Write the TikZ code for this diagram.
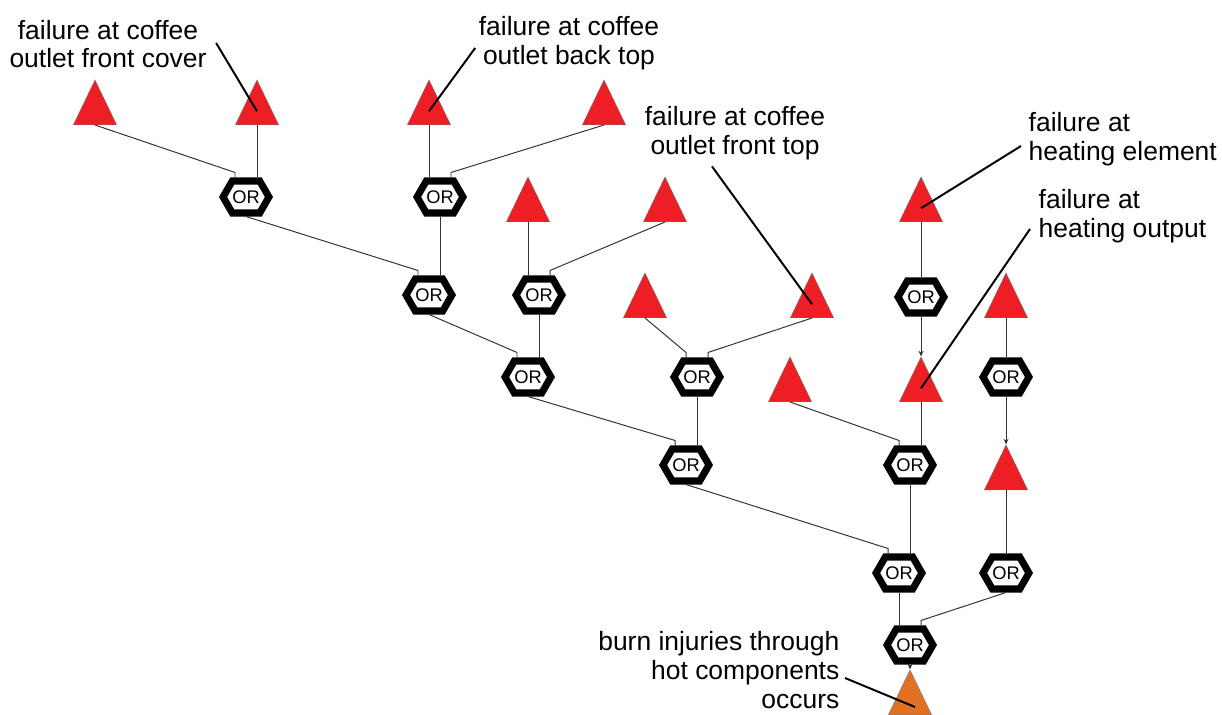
\documentclass[tikz,border=0pt]{standalone}
\usepackage{fontspec}
\setmainfont{Liberation Sans}
\usetikzlibrary{arrows.meta,calc,shapes.geometric,shapes.symbols}
\definecolor{evred}{RGB}{237,30,36}
\definecolor{evorange}{RGB}{226,112,35}

\begin{document}
\begin{tikzpicture}[x=0.025cm,y=-0.025cm]
\tikzset{
  event/.style={isosceles triangle,shape border rotate=90,isosceles triangle stretches,
    minimum width=1.08cm,minimum height=1.12cm,inner sep=0pt,draw=black!55,line width=0.3pt,fill=evred},
  gate/.style={signal,signal to=west and east,signal pointer angle=120,minimum width=1.05cm,
    minimum height=0.8cm,inner sep=0pt,draw,line width=5pt,fill=white,font=\fontsize{13}{13}\selectfont},
  wire/.style={line width=0.7pt,draw=black!80},
  feed/.style={wire,-{Stealth[length=4pt,width=3.5pt]}},
  leader/.style={line width=1.4pt},
  eventtext/.style={font=\fontsize{18.8}{20.5}\selectfont,inner sep=1pt}
}
\useasboundingbox (0,0) rectangle (1222,715);
% basic events
\node[event,anchor=south] (ev_1) at (95,125) {};
\node[event,anchor=south] (ev_2) at (257,125) {};
\node[event,anchor=south] (ev_3) at (429,125) {};
\node[event,anchor=south] (ev_4) at (604,125) {};
\node[event,anchor=south] (ev_5) at (528,222) {};
\node[event,anchor=south] (ev_6) at (665,222) {};
\node[event,anchor=south] (ev_7) at (921,222) {};
\node[event,anchor=south] (ev_8) at (645,318) {};
\node[event,anchor=south] (ev_9) at (812,318) {};
\node[event,anchor=south] (ev_10) at (1006,318) {};
\node[event,anchor=south] (ev_11) at (790,402) {};
\node[event,anchor=south] (ev_12) at (921,402) {};
\node[event,anchor=south] (ev_13) at (1006,490) {};
\node[event,anchor=south,fill=evorange] (top) at (910,715) {};
% OR gates
\node[gate] (or_1) at (246,197) {OR};
\node[gate] (or_2) at (440,197) {OR};
\node[gate] (or_3) at (429,295) {OR};
\node[gate] (or_4) at (539,295) {OR};
\node[gate] (or_5) at (528,377) {OR};
\node[gate] (or_6) at (697,377) {OR};
\node[gate] (or_7) at (686,465) {OR};
\node[gate] (or_8) at (910,465) {OR};
\node[gate] (or_9) at (899,573) {OR};
\node[gate] (or_10) at (1006,573) {OR};
\node[gate] (or_11) at (910,645) {OR};
\node[gate] (or_12) at (921,297) {OR};
\node[gate] (or_13) at (1006,377) {OR};
% wires
\draw[wire] (ev_1.south) -- ($(or_1.north)+(-11,-5)$) -- ($(or_1.north)+(-11,0)$);
\draw[wire] (ev_2.south) -- (ev_2.south |- or_1.north);
\draw[wire] (ev_3.south) -- (ev_3.south |- or_2.north);
\draw[wire] (ev_4.south) -- ($(or_2.north)+(11,-5)$) -- ($(or_2.north)+(11,0)$);
\draw[wire] (or_1.south) -- ($(or_3.north)+(-11,-5)$) -- ($(or_3.north)+(-11,0)$);
\draw[wire] (or_2.south) -- (or_2.south |- or_3.north);
\draw[wire] (ev_5.south) -- (ev_5.south |- or_4.north);
\draw[wire] (ev_6.south) -- ($(or_4.north)+(11,-5)$) -- ($(or_4.north)+(11,0)$);
\draw[wire] (or_3.south) -- ($(or_5.north)+(-11,-5)$) -- ($(or_5.north)+(-11,0)$);
\draw[wire] (or_4.south) -- (or_4.south |- or_5.north);
\draw[wire] (ev_8.south) -- ($(or_6.north)+(-11,-5)$) -- ($(or_6.north)+(-11,0)$);
\draw[wire] (ev_9.south) -- ($(or_6.north)+(11,-5)$) -- ($(or_6.north)+(11,0)$);
\draw[wire] (or_5.south) -- ($(or_7.north)+(-11,-5)$) -- ($(or_7.north)+(-11,0)$);
\draw[wire] (or_6.south) -- (or_6.south |- or_7.north);
\draw[wire] (ev_11.south) -- ($(or_8.north)+(-11,-5)$) -- ($(or_8.north)+(-11,0)$);
\draw[wire] (ev_12.south) -- (ev_12.south |- or_8.north);
\draw[wire] (or_7.south) -- ($(or_9.north)+(-11,-5)$) -- ($(or_9.north)+(-11,0)$);
\draw[wire] (or_8.south) -- (or_8.south |- or_9.north);
\draw[wire] (ev_7.south) -- (or_12.north);
\draw[feed] (or_12.south) -- (ev_12.apex);
\draw[wire] (ev_10.south) -- (or_13.north);
\draw[feed] (or_13.south) -- (ev_13.apex);
\draw[wire] (ev_13.south) -- (or_10.north);
\draw[wire] (or_9.south) -- (or_9.south |- or_11.north);
\draw[wire] (or_10.south) -- ($(or_11.north)+(11,-5)$) -- ($(or_11.north)+(11,0)$);
\draw[feed] (or_11.south) -- (top.apex);
% labels
\node[eventtext,align=center] (lb_1) at (108,44) {failure at coffee\\outlet front cover};
\node[eventtext,align=center] (lb_2) at (569,43) {failure at coffee\\outlet back top};
\node[eventtext,align=center] (lb_3) at (735,133) {failure at coffee\\outlet front top};
\node[eventtext,align=left,anchor=west] (lb_4) at (1027,139) {failure at\\heating element};
\node[eventtext,align=left,anchor=west] (lb_5) at (1037,216) {failure at\\heating output};
\node[eventtext,align=right,anchor=east] (lb_6) at (841,670) {burn injuries through\\hot components\\occurs};
\draw[leader] ($(lb_1.east)+(8,-1)$) -- (ev_2.center);
\draw[leader] ($(lb_2.west)+(-2,5)$) -- (ev_3.center);
\draw[leader] ($(lb_3.south)+(-23,5)$) -- (ev_9.center);
\draw[leader] ($(lb_4.west)+(-6,7)$) -- (ev_7.center);
\draw[leader] ($(lb_5.west)+(-7,13)$) -- (ev_12.center);
\draw[leader] ($(lb_6.east)+(4,8)$) -- ($(top.south)+(5,-8)$);
\end{tikzpicture}
\end{document}
